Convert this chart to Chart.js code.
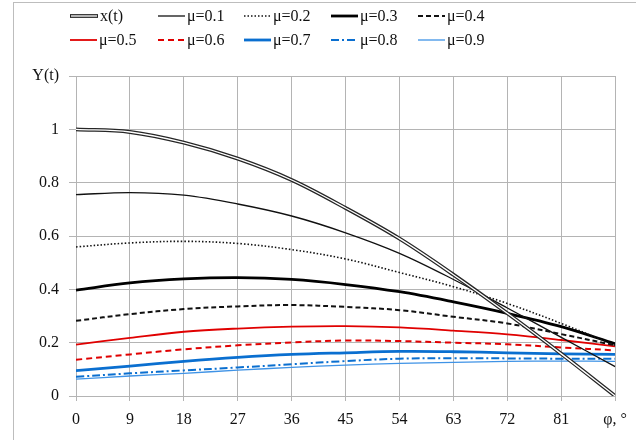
<!DOCTYPE html>
<html>
<head>
<meta charset="utf-8">
<script src="https://cdn.jsdelivr.net/npm/chart.js@4/dist/chart.umd.min.js"></script>
<style>
  html, body { margin: 0; padding: 0; background: #fff; }
  #wrap { position: relative; width: 636px; height: 440px; overflow: hidden; }
  #frame { position: absolute; left: 13px; top: 2px; width: 700px; height: 500px;
           border-left: 1px solid #bdbdbd; border-top: 1px solid #bdbdbd; }
  canvas { position: absolute; left: 0; top: 0; }
</style>
</head>
<body>
<div id="wrap">
  <div id="frame"></div>
  <canvas id="chart" width="636" height="440"></canvas>
</div>
<script>
// Angle samples (degrees) and curves.
const phi = [0, 9, 18, 27, 36, 45, 54, 63, 72, 81, 90];
const xt   = [1.0, 0.99, 0.95, 0.89, 0.81, 0.705, 0.59, 0.455, 0.31, 0.158, 0.0];
const mu01 = [0.755, 0.763, 0.753, 0.72, 0.675, 0.612, 0.535, 0.437, 0.33, 0.22, 0.11];
const mu02 = [0.559, 0.574, 0.58, 0.572, 0.549, 0.514, 0.463, 0.41, 0.347, 0.272, 0.19];
const mu03 = [0.397, 0.424, 0.439, 0.444, 0.437, 0.418, 0.391, 0.353, 0.31, 0.26, 0.196];
const mu04 = [0.282, 0.307, 0.326, 0.336, 0.341, 0.334, 0.322, 0.297, 0.272, 0.232, 0.19];
const mu05 = [0.193, 0.218, 0.241, 0.253, 0.26, 0.262, 0.257, 0.245, 0.231, 0.21, 0.186];
const mu06 = [0.136, 0.156, 0.175, 0.19, 0.201, 0.208, 0.206, 0.2, 0.194, 0.182, 0.171];
const mu07 = [0.095, 0.112, 0.13, 0.145, 0.156, 0.162, 0.167, 0.166, 0.162, 0.158, 0.156];
const mu08 = [0.072, 0.085, 0.096, 0.107, 0.119, 0.131, 0.14, 0.142, 0.141, 0.14, 0.14];
const mu09 = [0.063, 0.075, 0.085, 0.097, 0.107, 0.116, 0.122, 0.126, 0.13, 0.131, 0.13];

const seriesLabels = ["x(t)", "μ=0.1", "μ=0.2", "μ=0.3", "μ=0.4",
                      "μ=0.5", "μ=0.6", "μ=0.7", "μ=0.8", "μ=0.9"];
const xTickLabels = ["0", "9", "18", "27", "36", "45", "54", "63", "72", "81", "φ, °"];
const yTickLabels = ["0", "0.2", "0.4", "0.6", "0.8", "1", "Y(t)"];

const FONT = "'Liberation Serif', 'Times New Roman', serif";
const RED = "#e00000";
const BLUE = "#0a6fd0";
const LIGHTBLUE = "#3f93e6";

const pts = (ys) => ys.map((y, i) => ({ x: phi[i], y }));

// style per legend entry (x(t) is drawn as a double line)
const styles = [
  { color: "#262626", width: 3.8, dash: [], double: true },
  { color: "#111", width: 1.3, dash: [] },
  { color: "#111", width: 1.6, dash: [1.5, 2] },
  { color: "#000", width: 2.8, dash: [] },
  { color: "#111", width: 2, dash: [5, 3] },
  { color: RED, width: 1.8, dash: [] },
  { color: RED, width: 2, dash: [6, 4] },
  { color: BLUE, width: 2.8, dash: [] },
  { color: BLUE, width: 2, dash: [8, 3, 2, 3] },
  { color: LIGHTBLUE, width: 1.3, dash: [] },
];

const series = [xt, mu01, mu02, mu03, mu04, mu05, mu06, mu07, mu08, mu09];

const line = (label, ys, st, order) => ({
  label,
  data: pts(ys),
  borderColor: st.color,
  borderWidth: st.width,
  borderDash: st.dash,
  pointRadius: 0,
  tension: 0.35,
  fill: false,
  order,
});

const datasets = [];
// inner white stroke of the double line, drawn on top of the dark one
datasets.push(line("x(t) inner", xt, { color: "#fff", width: 1.3, dash: [] }, 0));
series.forEach((ys, i) => datasets.push(line(seriesLabels[i], ys, styles[i], i === 0 ? 1 : i + 2)));

// Legend drawn by hand: 5 columns x 2 rows, line sample then text.
const legendCols = [70, 158, 244, 331, 418];
const legendRows = [16, 40];
const legendPlugin = {
  id: "mulegend",
  afterDraw(chart) {
    const c = chart.ctx;
    c.save();
    c.font = "16px " + FONT;
    c.textBaseline = "middle";
    c.fillStyle = "#111";
    seriesLabels.forEach((lab, i) => {
      const x0 = legendCols[i % 5];
      const y = legendRows[Math.floor(i / 5)];
      const st = styles[i];
      const len = i === 0 ? 28 : 27;
      c.beginPath();
      c.setLineDash(st.dash);
      c.lineWidth = st.width;
      c.strokeStyle = st.color;
      c.moveTo(x0, y);
      c.lineTo(x0 + len, y);
      c.stroke();
      if (st.double) {
        c.beginPath();
        c.lineWidth = 1.3;
        c.strokeStyle = "#fff";
        c.moveTo(x0 + 1, y);
        c.lineTo(x0 + len - 1, y);
        c.stroke();
      }
      c.setLineDash([]);
      c.fillText(lab, x0 + len + 2, y + 1);
    });
    c.restore();
  },
};

new Chart(document.getElementById("chart"), {
  type: "line",
  data: { datasets },
  plugins: [legendPlugin],
  options: {
    responsive: false,
    animation: false,
    layout: { padding: { top: 76, left: 0, right: 19, bottom: 0 } },
    plugins: { legend: { display: false }, tooltip: { enabled: false } },
    scales: {
      x: {
        type: "linear",
        min: 0,
        max: 90,
        ticks: {
          stepSize: 9,
          padding: 9,
          maxRotation: 0,
          color: "#111",
          font: { family: FONT, size: 16 },
          callback: (v, i) => xTickLabels[i],
        },
        grid: { color: "#b4b4b4", lineWidth: 1, tickLength: 5 },
        border: { color: "#b4b4b4" },
        afterFit: (s) => { s.height = 44; },
      },
      y: {
        min: 0,
        max: 1.2,
        ticks: {
          stepSize: 0.2,
          padding: 10,
          color: "#111",
          font: { family: FONT, size: 16 },
          callback: (v, i) => yTickLabels[i],
        },
        grid: { color: "#b4b4b4", lineWidth: 1, tickLength: 7 },
        border: { color: "#b4b4b4" },
        afterFit: (s) => { s.width = 76; },
      },
    },
  },
});
</script>
</body>
</html>
